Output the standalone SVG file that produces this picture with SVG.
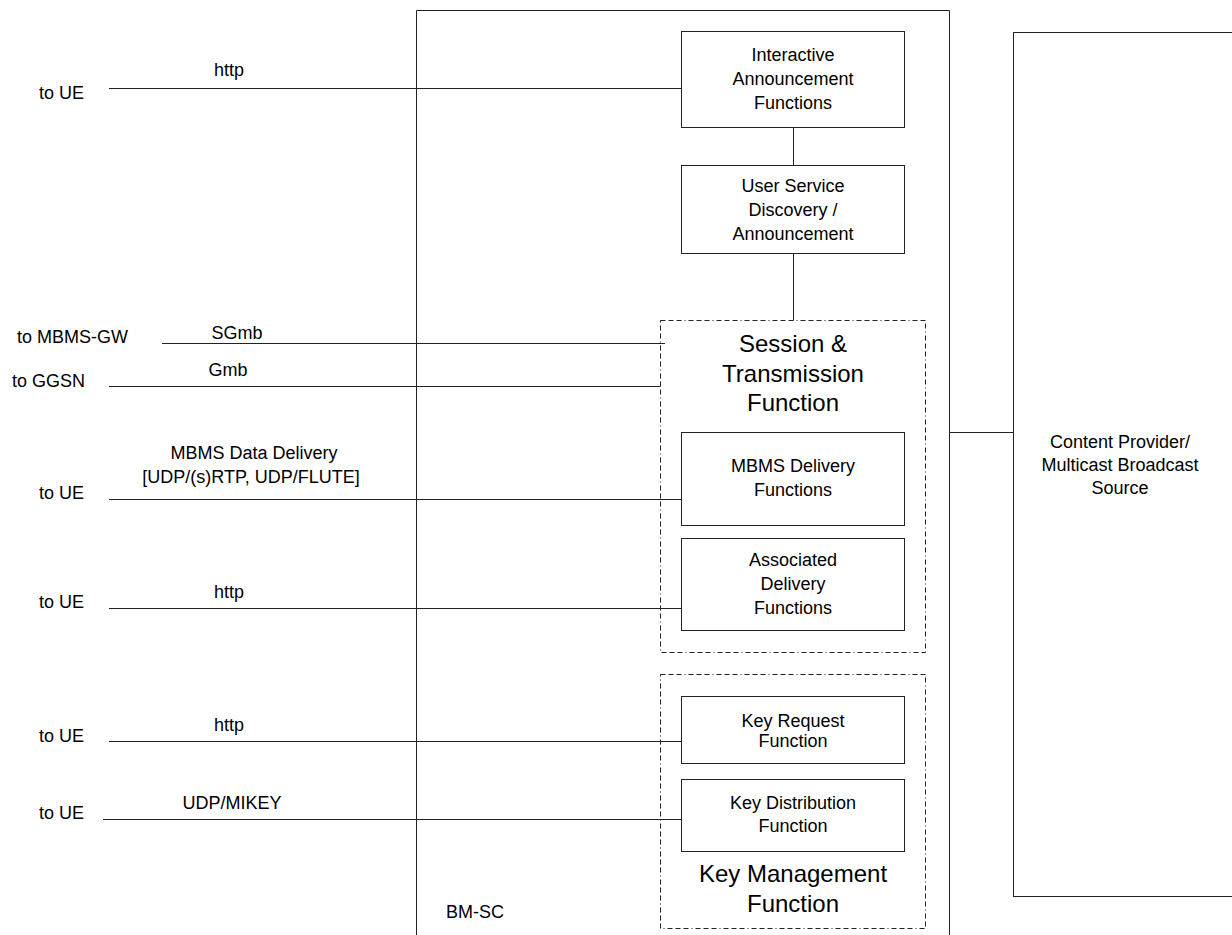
<svg xmlns="http://www.w3.org/2000/svg" width="1232" height="935" viewBox="0 0 1232 935">
<style>
text{font-family:"Liberation Sans",Arial,sans-serif;fill:#000;}
.s{font-size:18px;}
.l{font-size:24px;}
.c{text-anchor:middle;}
.box{fill:#fff;stroke:#222;stroke-width:1;}
.dash{fill:none;stroke:#222;stroke-width:1;stroke-dasharray:5 3 5 3 5 3 1 3;}
.ln{stroke:#222;stroke-width:1;fill:none;}
</style>
<rect width="1232" height="935" fill="#fff"/>
<g id="bmsc">
  <path class="ln" d="M416.5 940 V10.5 H949.5 V940" stroke="#000"/>
  <text class="s" x="446" y="918">BM-SC</text>
</g>
<g id="content-provider">
  <rect class="box" x="1013.5" y="32.5" width="240" height="864"/>
  <text class="s c" x="1120" y="448">Content Provider/</text>
  <text class="s c" x="1120" y="471">Multicast Broadcast</text>
  <text class="s c" x="1120" y="494">Source</text>
</g>
<g id="session-transmission">
  <rect class="dash" x="660.5" y="320.5" width="265" height="332"/>
  <text class="l c" x="793" y="352">Session &amp;</text>
  <text class="l c" x="793" y="382">Transmission</text>
  <text class="l c" x="793" y="411">Function</text>
</g>
<g id="key-management">
  <rect class="dash" x="660.5" y="674.5" width="265" height="254"/>
  <text class="l c" x="793" y="882">Key Management</text>
  <text class="l c" x="793" y="912">Function</text>
</g>
<g id="interactive-announcement">
  <rect class="box" x="681.5" y="31.5" width="223" height="96"/>
  <text class="s c" x="793" y="61">Interactive</text>
  <text class="s c" x="793" y="85">Announcement</text>
  <text class="s c" x="793" y="109">Functions</text>
</g>
<g id="user-service-discovery">
  <rect class="box" x="681.5" y="165.5" width="223" height="88"/>
  <text class="s c" x="793" y="192">User Service</text>
  <text class="s c" x="793" y="216">Discovery /</text>
  <text class="s c" x="793" y="240">Announcement</text>
</g>
<g id="mbms-delivery">
  <rect class="box" x="681.5" y="432.5" width="223" height="93"/>
  <text class="s c" x="793" y="472">MBMS Delivery</text>
  <text class="s c" x="793" y="496">Functions</text>
</g>
<g id="associated-delivery">
  <rect class="box" x="681.5" y="538.5" width="223" height="92"/>
  <text class="s c" x="793" y="566">Associated</text>
  <text class="s c" x="793" y="590">Delivery</text>
  <text class="s c" x="793" y="614">Functions</text>
</g>
<g id="key-request">
  <rect class="box" x="681.5" y="696.5" width="223" height="67"/>
  <text class="s c" x="793" y="727">Key Request</text>
  <text class="s c" x="793" y="747">Function</text>
</g>
<g id="key-distribution">
  <rect class="box" x="681.5" y="779.5" width="223" height="72"/>
  <text class="s c" x="793" y="809">Key Distribution</text>
  <text class="s c" x="793" y="832">Function</text>
</g>
<g id="external-labels">
  <text class="s" x="39" y="99">to UE</text>
  <text class="s" x="17" y="343">to MBMS-GW</text>
  <text class="s" x="12" y="387">to GGSN</text>
  <text class="s" x="39" y="499">to UE</text>
  <text class="s" x="39" y="608">to UE</text>
  <text class="s" x="39" y="742">to UE</text>
  <text class="s" x="39" y="819">to UE</text>
</g>
<g id="connectors">
  <path class="ln" d="M109 88.5 H681.5"/>
  <path class="ln" d="M162 343.5 H665"/>
  <path class="ln" d="M109 386.5 H660.5"/>
  <path class="ln" d="M109 499.5 H681.5"/>
  <path class="ln" d="M109 608.5 H681.5"/>
  <path class="ln" d="M109 741.5 H681.5"/>
  <path class="ln" d="M103 819.5 H681.5"/>
  <path class="ln" d="M793.5 127.5 V165.5"/>
  <path class="ln" d="M793.5 253.5 V320.5"/>
  <path class="ln" d="M949.5 432.5 H1013.5"/>
  <text class="s c" x="229" y="76">http</text>
  <text class="s c" x="237" y="339">SGmb</text>
  <text class="s c" x="228" y="376">Gmb</text>
  <text class="s c" x="254" y="459">MBMS Data Delivery</text>
  <text class="s c" x="251" y="483">[UDP/(s)RTP, UDP/FLUTE]</text>
  <text class="s c" x="229" y="598">http</text>
  <text class="s c" x="229" y="731">http</text>
  <text class="s c" x="232" y="809">UDP/MIKEY</text>
</g>
</svg>
